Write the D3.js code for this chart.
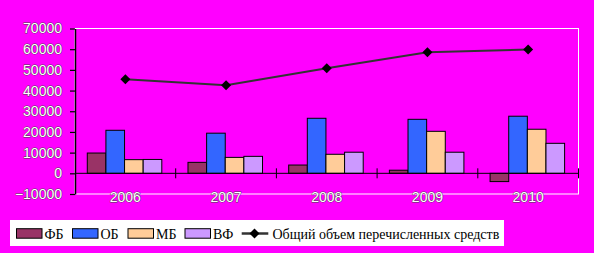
<!DOCTYPE html>
<html>
<head>
<meta charset="utf-8">
<script src="https://cdn.jsdelivr.net/npm/d3@7"></script>
<style>
  body { margin: 0; background: #ff00ff; }
  svg { display: block; }
</style>
</head>
<body>
<svg width="594" height="253"></svg>
<script>
// data
var years = ["2006", "2007", "2008", "2009", "2010"];
var series = ["ФБ", "ОБ", "МБ", "ВФ"];
var fb = [9800, 5300, 4000, 1500, -4000];
var ob = [20800, 19400, 26600, 26100, 27600];
var mb = [6600, 7700, 9200, 20300, 21300];
var vf = [6700, 8200, 10200, 10200, 14500];
var total = [45500, 42600, 50800, 58500, 59800];
var lineName = "Общий объем перечисленных средств";
var yTicks = [-10000, 0, 10000, 20000, 30000, 40000, 50000, 60000, 70000];
var colors = ["#993366", "#3366ff", "#ffcc99", "#cc99ff"];

var barData = [fb, ob, mb, vf];

var svg = d3.select("svg");

var plotLeft = 75, plotRight = 578.5, plotTop = 28.5, plotBottom = 194;

var x = d3.scaleBand().domain(years).range([plotLeft, plotRight]);
var y = d3.scaleLinear().domain([-10000, 70000]).range([plotBottom, plotTop]);
var bw = x.bandwidth();
var x1 = d3.scaleBand().domain(series).range([bw * 0.122, bw * 0.862]);

// plot area border (white)
svg.append("rect")
  .attr("x", plotLeft).attr("y", plotTop)
  .attr("width", plotRight - plotLeft).attr("height", plotBottom - plotTop)
  .attr("fill", "none").attr("stroke", "#fff").attr("stroke-width", 1);

// bars
var groups = svg.selectAll("g.year")
  .data(years)
  .enter()
  .append("g")
  .attr("class", "year")
  .attr("transform", function(d) { return "translate(" + x(d) + ",0)"; });

groups.selectAll("rect")
  .data(function(d, i) {
    return series.map(function(s, j) { return {s: s, v: barData[j][i], c: colors[j]}; });
  })
  .enter()
  .append("rect")
  .attr("x", function(d) { return x1(d.s); })
  .attr("width", x1.bandwidth())
  .attr("y", function(d) { return y(Math.max(0, d.v)); })
  .attr("height", function(d) { return Math.abs(y(d.v) - y(0)); })
  .attr("fill", function(d) { return d.c; })
  .attr("stroke", "#000")
  .attr("stroke-width", 1);

// y axis
var yAxis = svg.append("g")
  .attr("transform", "translate(" + plotLeft + ",0)")
  .call(d3.axisLeft(y).tickValues(yTicks).tickSize(5).tickSizeOuter(0).tickPadding(8).tickFormat(d3.format("d")));
yAxis.select(".domain").attr("stroke", "#000").attr("stroke-width", 1.5);
yAxis.selectAll(".tick line").attr("stroke", "#000").attr("stroke-width", 1.2);
yAxis.selectAll(".tick text")
  .attr("font-family", "Liberation Sans, Arial, sans-serif")
  .attr("font-size", 14)
  .attr("fill", "#fff")
  .attr("stroke", "#444")
  .attr("stroke-width", 0.8)
  .attr("paint-order", "stroke");

// x axis at zero
svg.append("line")
  .attr("x1", plotLeft).attr("x2", plotRight)
  .attr("y1", y(0)).attr("y2", y(0))
  .attr("stroke", "#000").attr("stroke-width", 1);

svg.selectAll("line.xtick")
  .data(years)
  .enter()
  .append("line")
  .attr("class", "xtick")
  .attr("x1", function(d) { return x(d) + bw; })
  .attr("x2", function(d) { return x(d) + bw; })
  .attr("y1", y(0) - 5).attr("y2", y(0) + 5)
  .attr("stroke", "#000").attr("stroke-width", 1);

svg.selectAll("text.year")
  .data(years)
  .enter()
  .append("text")
  .attr("class", "year")
  .attr("x", function(d) { return x(d) + bw / 2; })
  .attr("y", 201.5)
  .attr("text-anchor", "middle")
  .attr("font-family", "Liberation Sans, Arial, sans-serif")
  .attr("font-size", 14)
  .attr("fill", "#fff")
  .attr("stroke", "#444")
  .attr("stroke-width", 0.8)
  .attr("paint-order", "stroke")
  .text(function(d) { return d; });

// total line
var line = d3.line()
  .x(function(d, i) { return x(years[i]) + bw / 2; })
  .y(function(d) { return y(d); });

svg.append("path")
  .datum(total)
  .attr("d", line)
  .attr("fill", "none")
  .attr("stroke", "#333")
  .attr("stroke-width", 2);

var diamond = d3.symbol().type(d3.symbolSquare).size(50);
svg.selectAll("path.marker")
  .data(total)
  .enter()
  .append("path")
  .attr("class", "marker")
  .attr("d", diamond)
  .attr("transform", function(d, i) {
    return "translate(" + (x(years[i]) + bw / 2) + "," + y(d) + ") rotate(45)";
  })
  .attr("fill", "#000");

// legend
var legend = svg.append("g");
legend.append("rect")
  .attr("x", 10).attr("y", 220)
  .attr("width", 494).attr("height", 26)
  .attr("fill", "#fff");

var swatchX = [16.5, 72.5, 128, 185];
series.forEach(function(s, j) {
  legend.append("rect")
    .attr("x", swatchX[j]).attr("y", 228.7)
    .attr("width", 25.5).attr("height", 9.5)
    .attr("fill", colors[j])
    .attr("stroke", "#000").attr("stroke-width", 1);
  legend.append("text")
    .attr("x", swatchX[j] + 28)
    .attr("y", 238.5)
    .attr("font-family", "Liberation Serif, Times New Roman, serif")
    .attr("font-size", 14)
    .attr("fill", "#000")
    .text(s);
});

legend.append("line")
  .attr("x1", 241.7).attr("x2", 268.3)
  .attr("y1", 233.5).attr("y2", 233.5)
  .attr("stroke", "#333").attr("stroke-width", 2.5);
legend.append("path")
  .attr("d", diamond)
  .attr("transform", "translate(254.5,233.5) rotate(45)")
  .attr("fill", "#000");
legend.append("text")
  .attr("x", 272.5)
  .attr("y", 238.5)
  .attr("font-family", "Liberation Serif, Times New Roman, serif")
  .attr("font-size", 14)
  .attr("fill", "#000")
  .text(lineName);
</script>
</body>
</html>
